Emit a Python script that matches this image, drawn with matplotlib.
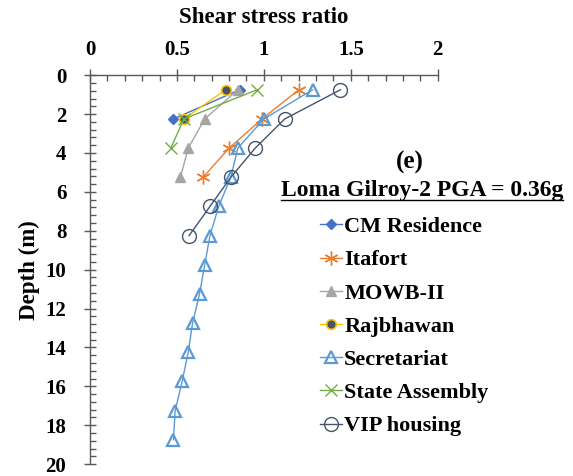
import matplotlib
matplotlib.use("Agg")
import matplotlib.pyplot as plt
from matplotlib.ticker import MultipleLocator
from matplotlib.lines import Line2D

plt.rcParams['font.family'] = ['Liberation Serif', 'DejaVu Serif']
plt.rcParams['font.weight'] = 'bold'

# Data (depth in m, shear stress ratio)
depth_short = [0.75, 2.25]
depth_3 = [0.75, 2.25, 3.75]
depth_4 = [0.75, 2.25, 3.75, 5.25]
depth_6 = [0.75, 2.25, 3.75, 5.25, 6.75, 8.25]
depth_13 = [0.75, 2.25, 3.75, 5.25, 6.75, 8.25, 9.75, 11.25, 12.75, 14.25, 15.75, 17.25, 18.75]

cm_residence = [0.86, 0.48]
itafort = [1.20, 0.99, 0.80, 0.65]
mowb_ii = [0.85, 0.66, 0.565, 0.52]
rajbhawan = [0.78, 0.54]
secretariat = [1.28, 1.00, 0.85, 0.81, 0.74, 0.69, 0.66, 0.63, 0.59, 0.565, 0.53, 0.49, 0.48]
state_assembly = [0.96, 0.54, 0.465]
vip_housing = [1.44, 1.12, 0.95, 0.81, 0.69, 0.57]

x_ticks = [0, 0.5, 1, 1.5, 2]
x_tick_labels = ['0', '0.5', '1', '1.5', '2']
y_ticks = list(range(0, 21, 2))

fig = plt.figure(figsize=(5.73, 4.76), dpi=100)
ax = fig.add_axes([0.157, 0.025, 0.607, 0.817])

h = []
h += ax.plot(cm_residence, depth_short, color='#4472C4', lw=1.0, marker='D', ms=5,
             mfc='#4472C4', mec='#4472C4', label='CM Residence')
h += ax.plot(itafort, depth_4, color='#ED7D31', lw=1.0, marker=(6, 2, 0), ms=10,
             mfc='none', mec='#ED7D31', mew=1.0, label='Itafort')
h += ax.plot(mowb_ii, depth_4, color='#A5A5A5', lw=1.0, marker='^', ms=7,
             mfc='#A5A5A5', mec='#A5A5A5', label='MOWB-II')
h += ax.plot(rajbhawan, depth_short, color='#FFC000', lw=1.0, marker='o', ms=7,
             mfc='#44546A', mec='#FFC000', mew=1.2, label='Rajbhawan')
h += ax.plot(secretariat, depth_13, color='#5B9BD5', lw=1.0, marker='^', ms=9,
             mfc='none', mec='#5B9BD5', mew=1.6, label='Secretariat')
h += ax.plot(state_assembly, depth_3, color='#70AD47', lw=1.0, marker='x', ms=9,
             mfc='none', mec='#70AD47', mew=1.0, label='State Assembly')
h += ax.plot(vip_housing, depth_6, color='#44546A', lw=1.0, marker='o', ms=10,
             mfc='none', mec='#44546A', mew=1.0, label='VIP housing')

ax.set_xlim(0, 2)
ax.set_ylim(20, 0)
ax.xaxis.tick_top()
ax.xaxis.set_label_position('top')
ax.set_xticks(x_ticks)
ax.set_xticklabels(x_tick_labels)
ax.set_yticks(y_ticks)
ax.xaxis.set_minor_locator(MultipleLocator(0.1))
ax.yaxis.set_minor_locator(MultipleLocator(0.4))
for s in ['right', 'bottom']:
    ax.spines[s].set_visible(False)
for s in ['left', 'top']:
    ax.spines[s].set_color('#595959')
    ax.spines[s].set_linewidth(1.0)
ax.tick_params(which='major', direction='inout', length=8, width=1.0, color='#595959',
               labelsize=15)
ax.tick_params(which='minor', direction='in', length=4, width=1.0, color='#595959')
ax.tick_params(axis='x', which='both', top=True, bottom=False)
ax.tick_params(axis='x', which='major', pad=7)
ax.tick_params(axis='y', which='both', left=True, right=False)
ax.tick_params(axis='y', which='major', pad=13)
for lab in ax.get_xticklabels() + ax.get_yticklabels():
    lab.set_fontweight('bold')

ax.set_xlabel('Shear stress ratio', fontsize=16.5, fontweight='bold', labelpad=12)
ax.set_ylabel('Depth (m)', fontsize=16.5, fontweight='bold', labelpad=4)

fig.text(0.716, 0.658, '(e)', fontsize=18, fontweight='bold', ha='center', va='center')
t = fig.text(0.737, 0.599, 'Loma Gilroy-2 PGA = 0.36g', fontsize=17, fontweight='bold',
             ha='center', va='center')

leg = fig.legend(handles=h, loc='upper left', bbox_to_anchor=(0.558, 0.545),
                 frameon=False, fontsize=16, handlelength=1.0, handletextpad=0.1,
                 labelspacing=0.57, borderaxespad=0, borderpad=0)
for txt in leg.get_texts():
    txt.set_fontweight('bold')

fig.canvas.draw()
bb = t.get_window_extent().transformed(fig.transFigure.inverted())
fig.add_artist(Line2D([bb.x0, bb.x1], [bb.y0 + 0.002, bb.y0 + 0.002],
                      transform=fig.transFigure, color='black', lw=1.0))

fig.savefig('out.png', dpi=100)
